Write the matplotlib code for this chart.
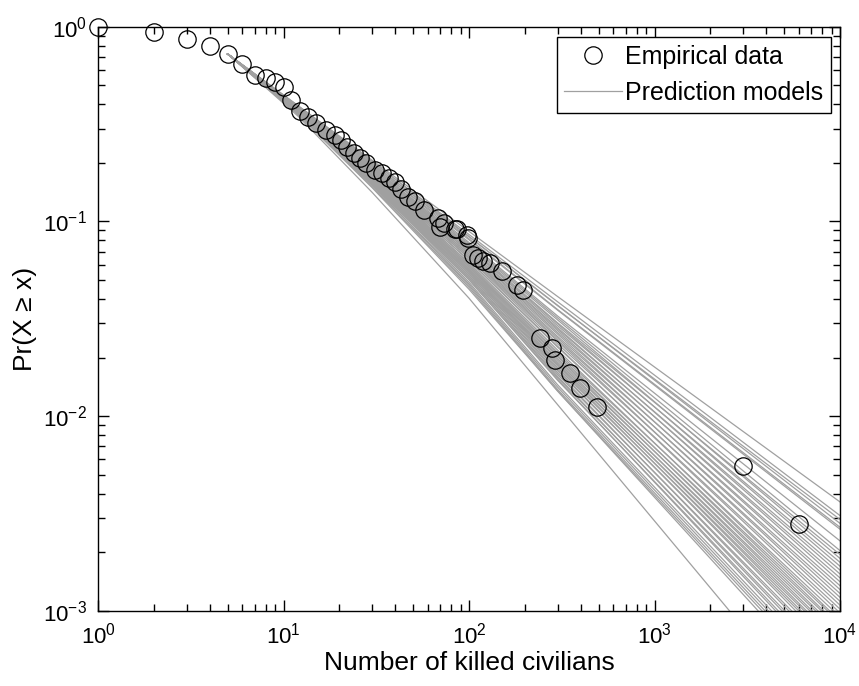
import numpy as np
import matplotlib
matplotlib.use("Agg")
import matplotlib.pyplot as plt
from matplotlib.ticker import LogLocator, NullFormatter

plt.rcParams['font.family'] = ['Liberation Sans', 'DejaVu Sans']
plt.rcParams['mathtext.fontset'] = 'custom'
plt.rcParams['mathtext.rm'] = 'Liberation Sans'
plt.rcParams['mathtext.it'] = 'Liberation Sans:italic'
plt.rcParams['mathtext.bf'] = 'Liberation Sans:bold'
plt.rcParams['axes.unicode_minus'] = False

# ---- Empirical data (CCDF) ----
emp_x = [1, 2, 3, 4, 5, 6, 7, 8, 9, 10, 11, 12.2, 13.6, 15, 17, 19, 20.5, 22, 24, 26,
         28, 31, 34, 37, 40, 43, 47, 51, 57, 68, 70, 73, 84, 86, 97, 99, 105, 112,
         119, 130, 150, 181, 196, 241, 279, 291, 351, 396, 488, 3000, 6000]
emp_y = [1.0, 0.943, 0.865, 0.80, 0.724, 0.641, 0.565, 0.544, 0.522, 0.489, 0.421,
         0.367, 0.345, 0.32, 0.295, 0.279, 0.262, 0.242, 0.224, 0.211, 0.199, 0.184,
         0.177, 0.167, 0.16, 0.146, 0.134, 0.127, 0.115, 0.104, 0.094, 0.098, 0.092,
         0.091, 0.0855, 0.082, 0.0675, 0.0649, 0.0624, 0.0612, 0.0555, 0.0473, 0.0446,
         0.0252, 0.0224, 0.0195, 0.0167, 0.014, 0.0112, 0.00554, 0.00279]

# ---- Prediction models: log10 Pr(X >= x) read at x = 5, 12, 30, 100, 300, 10000 ----
model_x = [5, 12, 30, 100, 300, 10000]
model_start_logy = -0.140
model_logy12 = [-0.406, -0.409, -0.407, -0.413, -0.411, -0.415, -0.413, -0.417, -0.416,
                -0.420, -0.418, -0.421, -0.419, -0.423, -0.421, -0.425, -0.423, -0.427,
                -0.425, -0.428, -0.426, -0.429, -0.428, -0.431, -0.429, -0.432, -0.431,
                -0.434, -0.432, -0.435, -0.433, -0.436, -0.434, -0.438, -0.436, -0.439,
                -0.437, -0.440, -0.439, -0.443, -0.440, -0.444, -0.443, -0.446, -0.445,
                -0.448, -0.447, -0.450, -0.452, -0.460]
model_logy30 = [-0.685, -0.694, -0.690, -0.705, -0.700, -0.712, -0.708, -0.718, -0.716,
                -0.728, -0.722, -0.733, -0.727, -0.738, -0.730, -0.744, -0.736, -0.748,
                -0.742, -0.752, -0.746, -0.757, -0.752, -0.762, -0.757, -0.768, -0.760,
                -0.772, -0.765, -0.776, -0.770, -0.780, -0.774, -0.783, -0.777, -0.787,
                -0.781, -0.792, -0.786, -0.797, -0.790, -0.802, -0.798, -0.808, -0.803,
                -0.814, -0.812, -0.821, -0.826, -0.850]
model_logy100 = [-1.051, -1.067, -1.077, -1.079, -1.089, -1.094, -1.108, -1.115, -1.128,
                 -1.122, -1.137, -1.134, -1.147, -1.146, -1.157, -1.155, -1.169, -1.165,
                 -1.179, -1.176, -1.190, -1.186, -1.201, -1.200, -1.216, -1.212, -1.226,
                 -1.223, -1.235, -1.232, -1.245, -1.241, -1.253, -1.250, -1.261, -1.258,
                 -1.270, -1.268, -1.281, -1.278, -1.290, -1.289, -1.299, -1.299, -1.312,
                 -1.321, -1.329, -1.338, -1.348, -1.394]
model_logy300 = [-1.385, -1.412, -1.432, -1.430, -1.452, -1.455, -1.485, -1.495, -1.520,
                 -1.505, -1.535, -1.525, -1.552, -1.545, -1.570, -1.560, -1.590, -1.578,
                 -1.608, -1.598, -1.628, -1.615, -1.645, -1.640, -1.672, -1.660, -1.690,
                 -1.680, -1.705, -1.695, -1.722, -1.712, -1.735, -1.728, -1.750, -1.741,
                 -1.766, -1.758, -1.785, -1.776, -1.802, -1.795, -1.815, -1.810, -1.838,
                 -1.850, -1.862, -1.870, -1.870, -1.940]
model_logy_end = [-2.44, -2.51, -2.53, -2.55, -2.57, -2.58, -2.64, -2.69, -2.71, -2.73,
                  -2.75, -2.77, -2.79, -2.81, -2.83, -2.85, -2.87, -2.89, -2.91, -2.93,
                  -2.95, -2.97, -2.99, -3.01, -3.03, -3.05, -3.06, -3.08, -3.09, -3.11,
                  -3.12, -3.14, -3.15, -3.17, -3.18, -3.20, -3.21, -3.23, -3.25, -3.27,
                  -3.29, -3.31, -3.33, -3.35, -3.37, -3.39, -3.41, -3.43, -3.46, -3.68]

line_gray = '#a0a0a0'

fig = plt.figure(figsize=(8.59, 6.86), dpi=100)
ax = fig.add_axes([0.1141, 0.1093, 0.8638, 0.8518])

first = True
for y12, y30, y100, y300, ye in zip(model_logy12, model_logy30, model_logy100,
                                    model_logy300, model_logy_end):
    ys = 10.0 ** np.array([model_start_logy, y12, y30, y100, y300, ye])
    ax.plot(model_x, ys, color=line_gray, lw=0.9, zorder=2,
            label='Prediction models' if first else None)
    first = False

ax.plot(emp_x, emp_y, linestyle='none', marker='o', markersize=12.5,
        markerfacecolor='none', markeredgecolor='black', markeredgewidth=0.9,
        zorder=3, label='Empirical data', clip_on=False)

ax.set_xscale('log')
ax.set_yscale('log')
ax.set_xlim(1, 1e4)
ax.set_ylim(1e-3, 1)

ax.xaxis.set_major_locator(LogLocator(base=10, numticks=10))
ax.yaxis.set_major_locator(LogLocator(base=10, numticks=10))
ax.xaxis.set_minor_locator(LogLocator(base=10, subs=np.arange(2, 10), numticks=20))
ax.yaxis.set_minor_locator(LogLocator(base=10, subs=np.arange(2, 10), numticks=20))
ax.xaxis.set_minor_formatter(NullFormatter())
ax.yaxis.set_minor_formatter(NullFormatter())

ax.tick_params(which='both', direction='in', top=True, right=True, labelsize=16,
               width=1.0, color='black')
ax.tick_params(which='major', length=8, pad=8)
ax.tick_params(which='minor', length=5)
for s in ax.spines.values():
    s.set_linewidth(1.0)

ax.set_xlabel('Number of killed civilians', fontsize=19, labelpad=2)
ax.set_ylabel('Pr(X \u2265 x)', fontsize=19, labelpad=4)

handles, labels = ax.get_legend_handles_labels()
order = [labels.index('Empirical data'), labels.index('Prediction models')]
leg = ax.legend([handles[i] for i in order], [labels[i] for i in order],
                loc='upper right', bbox_to_anchor=(0.988, 0.982), borderaxespad=0,
                fontsize=18, fancybox=False, edgecolor='black', framealpha=1,
                handlelength=2.3, handletextpad=0.15, labelspacing=0.5,
                borderpad=0.3)
leg.get_frame().set_linewidth(1.0)

fig.savefig('out.png', dpi=100)
